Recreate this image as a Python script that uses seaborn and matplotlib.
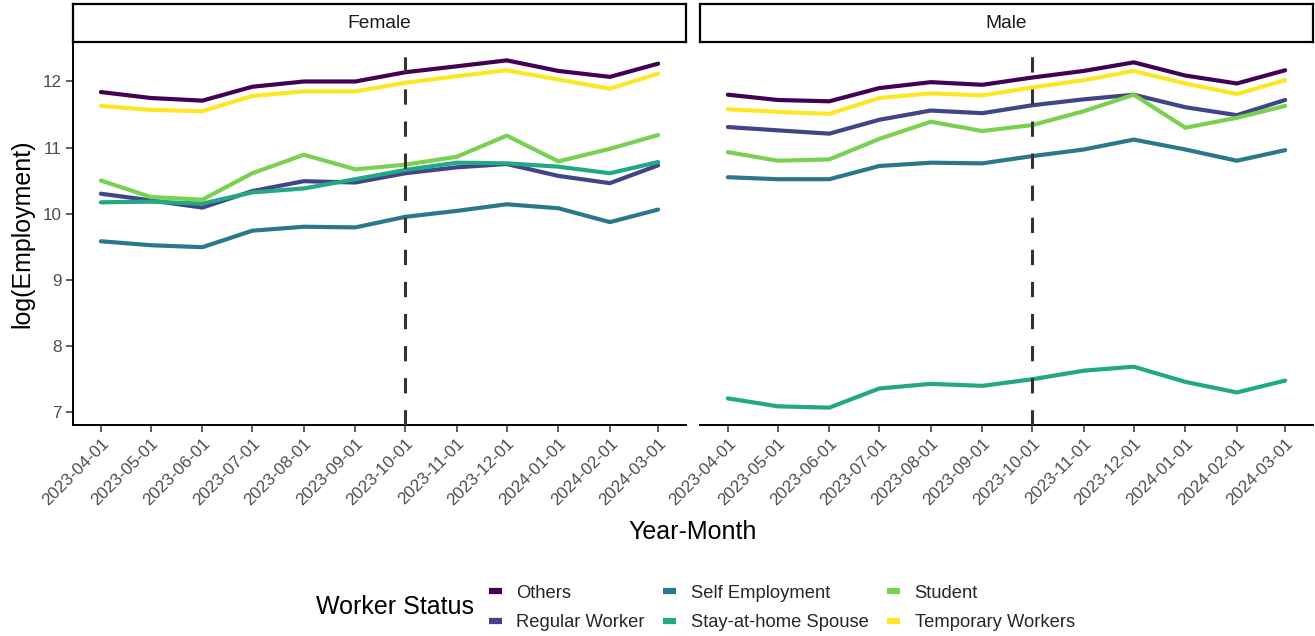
import matplotlib
matplotlib.use("Agg")
import matplotlib.pyplot as plt
from matplotlib.lines import Line2D
import numpy as np
import pandas as pd
import seaborn as sns

# ---------------- data ----------------
months = ["2023-04-01", "2023-05-01", "2023-06-01", "2023-07-01", "2023-08-01", "2023-09-01",
          "2023-10-01", "2023-11-01", "2023-12-01", "2024-01-01", "2024-02-01", "2024-03-01"]
statuses = ["Others", "Regular Worker", "Self Employment",
            "Stay-at-home Spouse", "Student", "Temporary Workers"]
sexes = ["Female", "Male"]

female_others    = [11.84, 11.75, 11.71, 11.92, 12.00, 12.00, 12.14, 12.23, 12.32, 12.16, 12.07, 12.27]
female_regular   = [10.30, 10.20, 10.09, 10.34, 10.49, 10.47, 10.61, 10.70, 10.75, 10.57, 10.46, 10.73]
female_self      = [9.58, 9.52, 9.49, 9.74, 9.80, 9.79, 9.95, 10.04, 10.14, 10.08, 9.87, 10.06]
female_spouse    = [10.17, 10.18, 10.15, 10.32, 10.38, 10.52, 10.66, 10.77, 10.76, 10.71, 10.61, 10.78]
female_student   = [10.50, 10.25, 10.21, 10.61, 10.89, 10.67, 10.74, 10.86, 11.18, 10.79, 10.98, 11.19]
female_temporary = [11.63, 11.57, 11.55, 11.78, 11.85, 11.85, 11.98, 12.08, 12.17, 12.03, 11.89, 12.12]

male_others    = [11.80, 11.72, 11.70, 11.90, 11.99, 11.95, 12.06, 12.16, 12.29, 12.09, 11.97, 12.17]
male_regular   = [11.31, 11.26, 11.21, 11.42, 11.56, 11.52, 11.64, 11.73, 11.80, 11.61, 11.49, 11.72]
male_self      = [10.55, 10.52, 10.52, 10.72, 10.77, 10.76, 10.87, 10.97, 11.12, 10.97, 10.80, 10.96]
male_spouse    = [7.20, 7.08, 7.06, 7.35, 7.42, 7.39, 7.49, 7.62, 7.68, 7.45, 7.29, 7.47]
male_student   = [10.93, 10.80, 10.82, 11.13, 11.39, 11.25, 11.34, 11.55, 11.80, 11.30, 11.45, 11.63]
male_temporary = [11.58, 11.54, 11.51, 11.75, 11.82, 11.79, 11.91, 12.02, 12.16, 11.97, 11.81, 12.02]

policy_date = "2023-10-01"
y_ticks = [7, 8, 9, 10, 11, 12]

series = {
    "Female": [female_others, female_regular, female_self, female_spouse, female_student, female_temporary],
    "Male":   [male_others, male_regular, male_self, male_spouse, male_student, male_temporary],
}

rows = []
for sex in sexes:
    for st, vals in zip(statuses, series[sex]):
        for m, v in zip(months, vals):
            rows.append({"sex": sex, "status": st, "date": pd.Timestamp(m), "value": v})
df = pd.DataFrame(rows)

colors = ["#440154", "#414487", "#2A788E", "#22A884", "#7AD151", "#FDE725"]
palette = dict(zip(statuses, colors))

# ---------------- style ----------------
sns.set_theme(style="white")
plt.rcParams["font.family"] = ["Liberation Sans", "DejaVu Sans"]

W, H = 1315, 636
fig = plt.figure(figsize=(W / 100, H / 100), dpi=100)

def fx(px):
    return px / W

def fy(py):
    return 1 - py / H

panel_left = [73, 700]
panel_w = 613
top, bottom = 43, 425
strip_top = 4

dates = pd.to_datetime(months)
span = (dates[-1] - dates[0]) * 0.05
xlim = (dates[0] - span, dates[-1] + span)
ymin_data, ymax_data = df["value"].min(), df["value"].max()
yr = ymax_data - ymin_data
ylim = (ymin_data - 0.05 * yr, ymax_data + 0.05 * yr)

tick_fs = 12.3
for i, sex in enumerate(sexes):
    x0 = panel_left[i]
    ax = fig.add_axes([fx(x0), fy(bottom), fx(panel_w), (bottom - top) / H])
    sub = df[df["sex"] == sex]
    sns.lineplot(data=sub, x="date", y="value", hue="status", hue_order=statuses,
                 palette=palette, linewidth=3.0, legend=False, ax=ax, zorder=3)
    ax.axvline(pd.Timestamp(policy_date), color="#333333", linewidth=2.2,
               linestyle=(0, (5, 5.5)), zorder=4)
    ax.set_xlim(xlim)
    ax.set_ylim(ylim)
    ax.set_xticks(dates)
    ax.set_xticklabels(months, rotation=45, ha="right", rotation_mode="anchor",
                       fontsize=tick_fs, color="#4D4D4D")
    ax.set_xlabel("")
    ax.set_ylabel("")
    for s in ["top", "right"]:
        ax.spines[s].set_visible(False)
    ax.spines["bottom"].set_color("black")
    ax.spines["bottom"].set_linewidth(1.4)
    ax.tick_params(axis="x", length=5, width=1.1, color="#333333", pad=3, bottom=True)
    if i == 0:
        ax.spines["left"].set_color("black")
        ax.spines["left"].set_linewidth(1.4)
        ax.set_yticks(y_ticks)
        ax.set_yticklabels([str(t) for t in y_ticks], fontsize=tick_fs, color="#4D4D4D")
        ax.tick_params(axis="y", length=5, width=1.1, color="#333333", pad=3, left=True)
    else:
        ax.spines["left"].set_visible(False)
        ax.set_yticks(y_ticks)
        ax.tick_params(axis="y", left=False, labelleft=False)
    ax.grid(False)

    # facet strip
    sax = fig.add_axes([fx(x0), fy(top - 1), fx(panel_w), (top - 1 - strip_top) / H])
    sax.set_xticks([])
    sax.set_yticks([])
    for s in sax.spines.values():
        s.set_color("black")
        s.set_linewidth(1.6)
    sax.set_facecolor("white")
    sax.text(0.5, 0.5, sex, ha="center", va="center", fontsize=13.8, color="#1A1A1A",
             transform=sax.transAxes)

fig.text(fx(22), fy(234), "log(Employment)", rotation=90, ha="center", va="center",
         fontsize=18, color="black")
fig.text(fx(693), fy(532), "Year-Month", ha="center", va="center", fontsize=18, color="black")

# legend
fig.text(fx(316), fy(607), "Worker Status", ha="left", va="center", fontsize=18, color="black")
handles = [Line2D([0], [0], color=palette[s], linewidth=4.5, solid_capstyle="butt") for s in statuses]
fig.legend(handles, statuses, loc="center left", bbox_to_anchor=(fx(489), fy(608)),
           ncol=3, frameon=False, fontsize=13.2, handlelength=0.7, handletextpad=0.8,
           columnspacing=1.0, labelspacing=0.68, borderaxespad=0, borderpad=0)

fig.savefig("out.png", dpi=100, facecolor="white")
